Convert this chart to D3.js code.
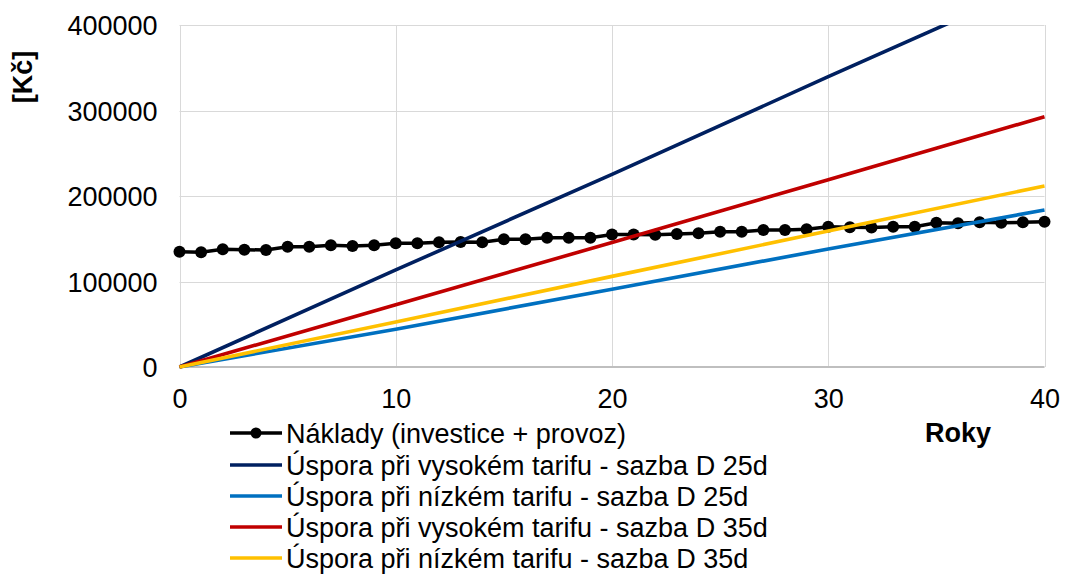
<!DOCTYPE html>
<html>
<head>
<meta charset="utf-8">
<script src="https://cdn.jsdelivr.net/npm/d3@7/dist/d3.min.js"></script>
<style>
  html, body { margin: 0; padding: 0; background: #fff; }
  svg { display: block; }
  text { font-family: "Liberation Sans", Arial, sans-serif; fill: #000; }
</style>
</head>
<body>
<svg id="chart" width="1069" height="574"></svg>
<script>
// Years on the x axis
const years = d3.range(0, 41);
const lineYears = [0, 10, 20, 30, 40];

// Cumulative costs (investment + operation), one value per year [Kč]
const naklady = [
  134900, 134200, 137700, 137200, 136800, 140700, 140700, 142300, 141500, 142300,
  144700, 144700, 145900, 146200, 145900, 149400, 149400, 151200, 151200, 151200,
  155000, 155000, 154800, 155600, 156400, 158300, 158300, 160200, 160200, 161000,
  164100, 163400, 163100, 164100, 164100, 168800, 168100, 169200, 168800, 169200,
  169900
];

// Cumulative savings at years 0, 10, 20, 30, 40 [Kč]
const usporaVysokyD25 = [0, 113500, 225400, 339500, 452000];
const usporaNizkyD25  = [0, 44200, 91000, 138000, 183600];
const usporaVysokyD35 = [0, 72900, 145600, 219100, 292700];
const usporaNizkyD35  = [0, 52600, 106000, 159000, 211700];

const yTicks = [0, 100000, 200000, 300000, 400000];
const xTicks = [0, 10, 20, 30, 40];

const seriesNames = [
  "Náklady (investice + provoz)",
  "Úspora při vysokém tarifu - sazba D 25d",
  "Úspora při nízkém tarifu - sazba D 25d",
  "Úspora při vysokém tarifu - sazba D 35d",
  "Úspora při nízkém tarifu - sazba D 35d"
];
const seriesColors = ["#000000", "#002060", "#0070C0", "#C00000", "#FFC000"];

const FONT = 27;
const svg = d3.select("#chart");
const plotLeft = 179.5, plotRight = 1044.5, plotTop = 25, plotBottom = 367;

const x = d3.scaleLinear().domain([0, 40]).range([plotLeft, plotRight]);
const y = d3.scaleLinear().domain([0, 400000]).range([plotBottom, plotTop]);

svg.append("defs").append("clipPath").attr("id", "plotClip")
  .append("rect").attr("x", plotLeft - 8).attr("y", plotTop)
  .attr("width", plotRight - plotLeft + 16).attr("height", plotBottom - plotTop + 8);

// Grid
const grid = svg.append("g");
grid.selectAll("line.h").data(yTicks.filter(v => v > 0)).join("line")
  .attr("x1", plotLeft).attr("x2", plotRight)
  .attr("y1", d => Math.round(y(d)) + 0.5).attr("y2", d => Math.round(y(d)) + 0.5)
  .attr("stroke", "#d9d9d9").attr("stroke-width", 1);
grid.selectAll("line.v").data(xTicks).join("line")
  .attr("x1", d => Math.round(x(d)) + 0.5).attr("x2", d => Math.round(x(d)) + 0.5)
  .attr("y1", plotTop).attr("y2", plotBottom)
  .attr("stroke", "#d9d9d9").attr("stroke-width", 1);

// Category axis baseline
svg.append("line")
  .attr("x1", plotLeft).attr("x2", plotRight).attr("y1", plotBottom).attr("y2", plotBottom)
  .attr("stroke", "#bfbfbf").attr("stroke-width", 2);

// Axes (labels only)
const yAxis = d3.axisLeft(y).tickValues(yTicks).tickFormat(d3.format("d")).tickSize(0).tickPadding(0);
const gy = svg.append("g").attr("transform", `translate(${plotLeft - 22},0)`).call(yAxis);
gy.select(".domain").remove();
gy.selectAll("text").attr("font-size", FONT).attr("font-family", "Liberation Sans, Arial, sans-serif")
  .attr("fill", "#000").attr("dy", "0.36em");

const xAxis = d3.axisBottom(x).tickValues(xTicks).tickFormat(d3.format("d")).tickSize(0).tickPadding(0);
const gx = svg.append("g").attr("transform", `translate(0,${plotBottom + 31})`).call(xAxis);
gx.select(".domain").remove();
gx.selectAll("text").attr("font-size", FONT).attr("font-family", "Liberation Sans, Arial, sans-serif")
  .attr("fill", "#000").attr("dy", "0.36em");

// Axis titles
svg.append("text").attr("transform", "translate(32,77) rotate(-90)")
  .attr("text-anchor", "middle").attr("font-size", FONT).attr("font-weight", "bold").text("[Kč]");
svg.append("text").attr("x", 925).attr("y", 442)
  .attr("font-size", FONT).attr("font-weight", "bold").text("Roky");

// Series
const plot = svg.append("g").attr("clip-path", "url(#plotClip)");
const line = d3.line().x(d => x(d[0])).y(d => y(d[1]));

const nakladyPts = years.map((yr, i) => [yr, naklady[i]]);
plot.append("path").datum(nakladyPts).attr("d", line)
  .attr("fill", "none").attr("stroke", seriesColors[0]).attr("stroke-width", 3.5);
plot.selectAll("circle.n").data(nakladyPts).join("circle")
  .attr("cx", d => x(d[0])).attr("cy", d => y(d[1])).attr("r", 6).attr("fill", "#000");

[usporaVysokyD25, usporaNizkyD25, usporaVysokyD35, usporaNizkyD35].forEach((vals, k) => {
  plot.append("path").datum(lineYears.map((yr, i) => [yr, vals[i]])).attr("d", line)
    .attr("fill", "none").attr("stroke", seriesColors[k + 1]).attr("stroke-width", 3.6)
    .attr("stroke-linejoin", "round");
});

// Legend
const legendRows = [433, 465, 496, 527, 558];
const lg = svg.append("g");
seriesNames.forEach((name, i) => {
  const ry = legendRows[i];
  lg.append("line").attr("x1", 230).attr("x2", 282).attr("y1", ry).attr("y2", ry)
    .attr("stroke", seriesColors[i]).attr("stroke-width", 3.6);
  if (i === 0) lg.append("circle").attr("cx", 256).attr("cy", ry).attr("r", 5.5).attr("fill", "#000");
  lg.append("text").attr("x", 286).attr("y", ry).attr("dy", "0.36em")
    .attr("font-size", FONT).text(name);
});
</script>
</body>
</html>
